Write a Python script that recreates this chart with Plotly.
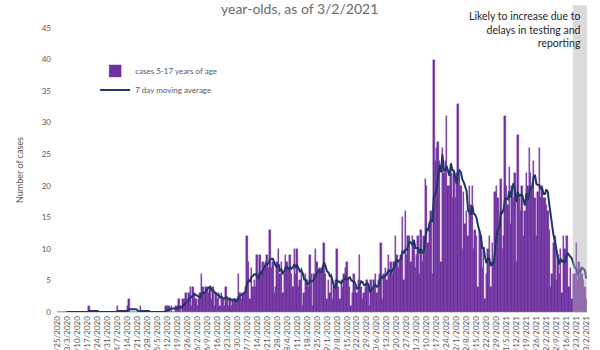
import pandas as pd
import plotly.graph_objects as go

start_date = "2020-02-25"
# daily cases 5-17 years of age, one row per week (2/25/2020 .. 3/2/2021)
cases = [
    0, 0, 0, 0, 0, 0, 0,
    0, 0, 0, 0, 0, 0, 0,
    0, 0, 0, 0, 0, 0, 0,
    0, 1, 0, 0, 0, 0, 0,
    0, 0, 0, 0, 0, 0, 0,
    0, 0, 0, 0, 0, 0, 0,
    1, 0, 0, 0, 0, 0, 0,
    1, 2, 0, 0, 0, 0, 0,
    0, 0, 1, 0, 0, 0, 0,
    0, 0, 0, 0, 0, 0, 0,
    0, 0, 0, 0, 0, 0, 1,
    1, 1, 0, 1, 0, 0, 1,
    1, 2, 1, 0, 2, 2, 3,
    2, 3, 4, 1, 4, 3, 2,
    1, 2, 3, 6, 4, 3, 4,
    4, 3, 4, 2, 4, 1, 3,
    2, 3, 1, 3, 2, 1, 4,
    2, 1, 2, 1, 2, 2, 2,
    2, 6, 3, 2, 3, 3, 4,
    12, 8, 2, 7, 4, 5, 4,
    9, 6, 9, 6, 8, 7, 8,
    9, 7, 13, 7, 8, 3, 4,
    8, 10, 6, 8, 3, 6, 9,
    8, 7, 9, 6, 4, 10, 6,
    10, 4, 5, 7, 1, 3, 6,
    5, 4, 9, 6, 1, 6, 10,
    8, 6, 7, 6, 7, 11, 6,
    2, 5, 3, 6, 2, 4, 5,
    10, 4, 2, 5, 4, 6, 7,
    8, 5, 4, 1, 3, 6, 4,
    3, 5, 9, 4, 2, 3, 4,
    5, 4, 1, 5, 4, 5, 6,
    3, 5, 6, 11, 2, 6, 7,
    5, 9, 6, 8, 6, 8, 12,
    9, 7, 8, 9, 15, 5, 16,
    9, 12, 12, 8, 12, 11, 7,
    9, 12, 6, 13, 8, 12, 21,
    20, 11, 14, 16, 6, 40, 24,
    26, 27, 24, 8, 26, 22, 24,
    31, 20, 20, 22, 18, 22, 18,
    22, 33, 22, 20, 10, 19, 14,
    16, 12, 20, 17, 20, 10, 13,
    12, 4, 13, 12, 7, 10, 2,
    6, 10, 12, 4, 11, 8, 19,
    20, 18, 14, 21, 10, 12, 31,
    20, 17, 23, 14, 20, 18, 22,
    8, 28, 18, 16, 20, 12, 16,
    22, 20, 26, 22, 20, 24, 18,
    12, 19, 26, 18, 20, 18, 18,
    17, 16, 13, 4, 6, 11, 12,
    5, 9, 6, 10, 3, 12, 10,
    12, 12, 4, 7, 2, 6, 6,
    11, 5, 8, 7, 6, 5, 4,
    2,
]
ma_window = 7
shade_start = "2021-02-21"
shade_end = "2021-03-02"
title_text = "year-olds, as of 3/2/2021"
note_text = "Likely to increase due to<br>delays in testing and<br>reporting"
bar_name = "cases 5-17 years of age"
line_name = "7 day moving average"
y_title = "Number of cases"
y_max = 45

dates = pd.date_range(start_date, periods=len(cases), freq="D")
ma = pd.Series(cases, index=dates).rolling(ma_window).mean()
tick_dates = pd.date_range(start_date, dates[-1], freq="7D")
half_day = pd.Timedelta(hours=12)

FONT = "Lato, 'Open Sans', sans-serif"
GREY = "#595959"
PURPLE = "#7030A0"

fig = go.Figure()
fig.add_trace(go.Bar(x=dates, y=cases, name=bar_name,
                     marker=dict(color=PURPLE, line=dict(width=0.4, color=PURPLE))))
fig.add_trace(go.Scatter(x=dates, y=ma, name=line_name, mode="lines",
                         line=dict(color="#1F3864", width=2)))

fig.add_shape(type="rect", xref="x", yref="paper",
              x0=pd.Timestamp(shade_start) - half_day,
              x1=pd.Timestamp(shade_end) + half_day,
              y0=0, y1=1.08, line=dict(width=0),
              fillcolor="rgba(175,175,182,0.45)", layer="above")

fig.add_annotation(text=title_text, xref="paper", yref="paper",
                   x=0.458, y=1.07, showarrow=False, xanchor="center", yanchor="middle",
                   font=dict(family=FONT, size=14, color="#6b6b6b"))
fig.add_annotation(text=note_text, xref="paper", yref="paper",
                   x=0.993, y=0.993, showarrow=False, xanchor="right", yanchor="middle",
                   align="right", font=dict(family=FONT, size=10.5, color="#262626"))

fig.update_layout(
    width=600, height=350,
    margin=dict(l=57, r=13, t=28, b=38),
    paper_bgcolor="white", plot_bgcolor="white",
    bargap=0,
    font=dict(family=FONT, color=GREY),
    showlegend=True,
    legend=dict(x=0.072, y=0.9, xanchor="left", yanchor="top",
                bgcolor="rgba(0,0,0,0)", font=dict(size=8, color=GREY),
                itemwidth=30, tracegroupgap=0),
)
fig.update_xaxes(
    range=[dates[0] - half_day, dates[-1] + half_day],
    tickvals=tick_dates, tickformat="%-m/%-d/%Y", tickangle=-90,
    tickfont=dict(size=8, color=GREY), showgrid=False,
    showline=True, linecolor="#D9D9D9", linewidth=1, ticks="",
    automargin=False, zeroline=False,
)
fig.update_yaxes(
    range=[0, y_max], dtick=5, showgrid=False, zeroline=False,
    tickfont=dict(size=8, color=GREY), ticks="", ticklabelstandoff=5,
    title=dict(text=y_title, font=dict(size=9, color=GREY), standoff=16),
    automargin=False,
)

fig.write_html("out.html")
